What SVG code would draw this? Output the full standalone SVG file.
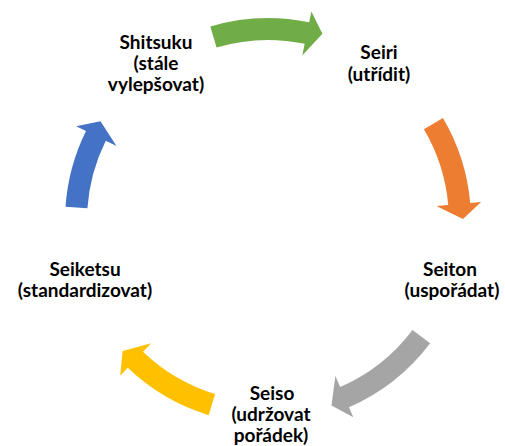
<svg xmlns="http://www.w3.org/2000/svg" width="505" height="446" viewBox="0 0 505 446">
<style>
.t{font-family:Lato,"Open Sans",sans-serif;font-weight:bold;font-size:19px;fill:#000;text-anchor:middle}
</style>
<rect width="505" height="446" fill="#fff"/>
<g id="connectors">
<path fill="#70AD47" transform="translate(268,221) rotate(16.2)" d="M -109.7,-170.8 A 203 203 0 0 1 -15.93,-202.4 L -16.79,-213.3 L 0,-195 L -13.26,-168.5 L -14.2,-180.4 A 181 181 0 0 0 -97.8,-152.3 Z"/>
<path fill="#ED7D31" transform="translate(268,221) rotate(89.4)" d="M -101.2,-176 A 203 203 0 0 1 -15.93,-202.4 L -16.79,-213.3 L 0,-195 L -13.26,-168.5 L -14.2,-180.4 A 181 181 0 0 0 -90.2,-156.9 Z"/>
<path fill="#A5A5A5" transform="translate(268,221) rotate(161)" d="M -113.5,-168.3 A 203 203 0 0 1 -15.93,-202.4 L -16.79,-213.3 L 0,-195 L -13.26,-168.5 L -14.2,-180.4 A 181 181 0 0 0 -101.2,-150 Z"/>
<path fill="#FFC000" transform="translate(268,221) rotate(228.2)" d="M -105.2,-173.6 A 203 203 0 0 1 -15.93,-202.4 L -16.79,-213.3 L 0,-195 L -13.26,-168.5 L -14.2,-180.4 A 181 181 0 0 0 -93.8,-154.8 Z"/>
<path fill="#4472C4" transform="translate(268,221) rotate(300.8)" d="M -91.5,-181.2 A 203 203 0 0 1 -15.93,-202.4 L -16.79,-213.3 L 0,-195 L -13.26,-168.5 L -14.2,-180.4 A 181 181 0 0 0 -81.6,-161.6 Z"/>
</g>
<g id="shitsuku"><text class="t" x="156" y="49">Shitsuku</text><text class="t" x="156" y="70">(stále</text><text class="t" x="156" y="91">vylepšovat)</text></g>
<g id="seiri"><text class="t" x="379" y="59">Seiri</text><text class="t" x="379" y="81">(utřídit)</text></g>
<g id="seiton"><text class="t" x="450" y="276">Seiton</text><text class="t" x="452" y="297">(uspořádat)</text></g>
<g id="seiketsu"><text class="t" x="85" y="276">Seiketsu</text><text class="t" x="85" y="297">(standardizovat)</text></g>
<g id="seiso"><text class="t" x="272" y="400">Seiso</text><text class="t" x="271" y="421">(udržovat</text><text class="t" x="271" y="442">pořádek)</text></g>
</svg>
